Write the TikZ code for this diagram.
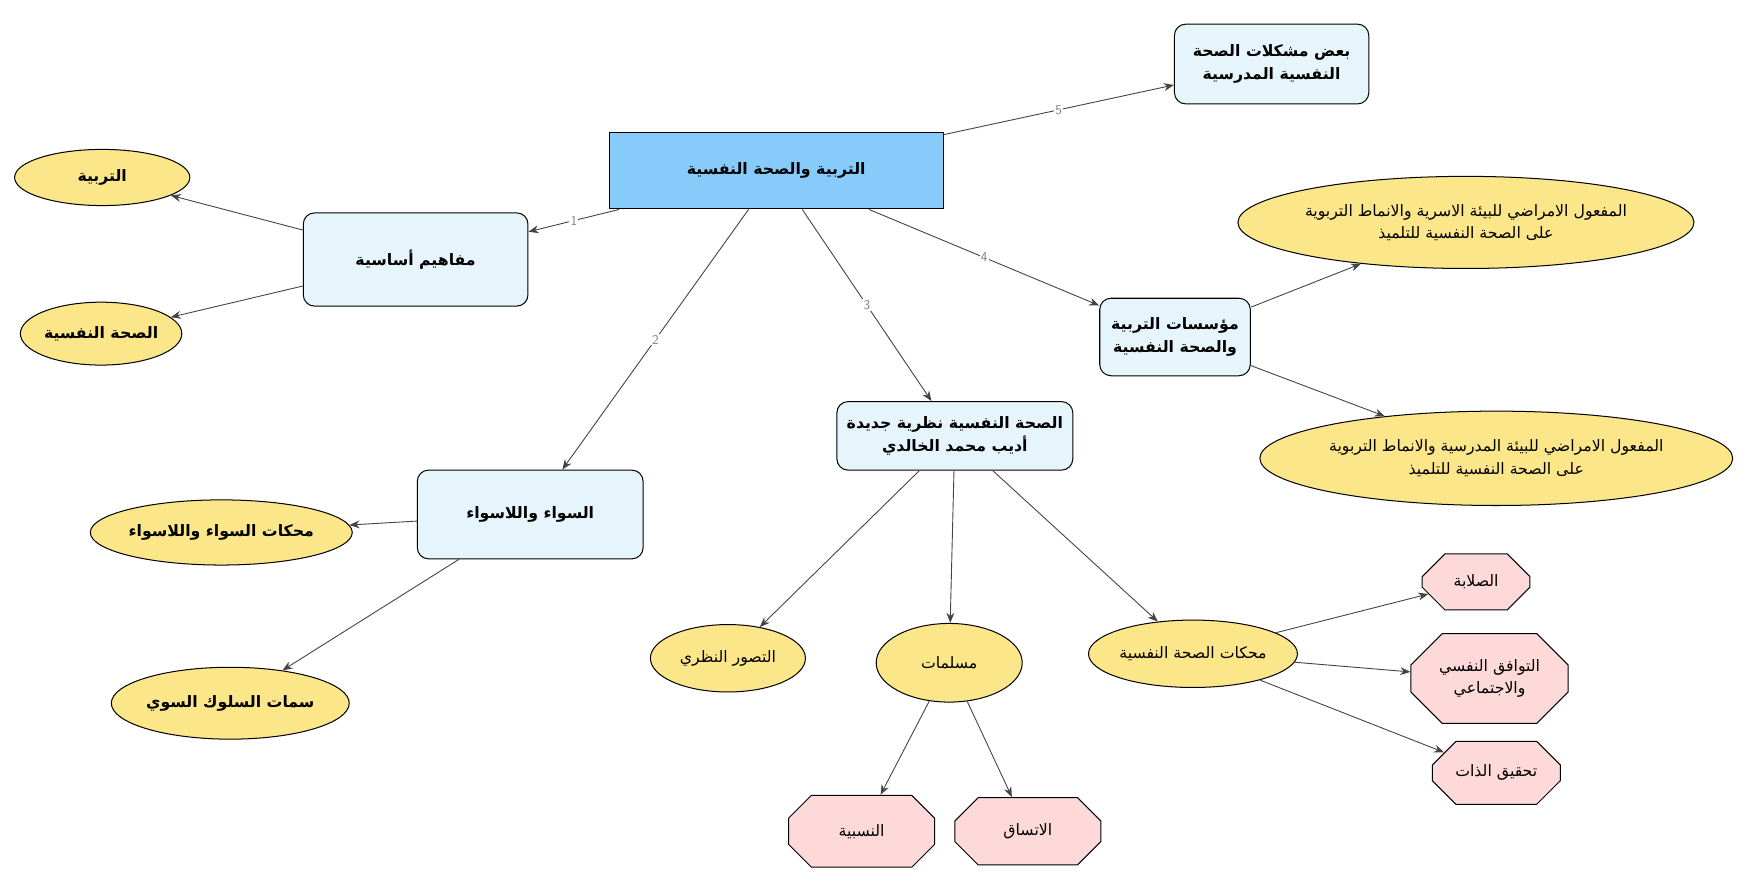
\documentclass[tikz,border=0pt]{standalone}
\usepackage{fontspec}
\TeXXeTstate=1
\newfontfamily\arabicfont[Script=Arabic]{DejaVu Sans}
\usetikzlibrary{shapes.geometric,shapes.misc,arrows.meta}
\newcommand{\ar}[1]{\beginR #1\endR}
\definecolor{boxblue}{HTML}{E6F5FC}
\definecolor{mainblue}{HTML}{87CBFB}
\definecolor{ylw}{HTML}{FCE68A}
\definecolor{pnk}{HTML}{FDD9D9}
\definecolor{edg}{HTML}{444444}
\tikzset{
  base/.style={draw=black, line width=0.9pt, align=center, inner sep=2pt, font=\arabicfont\fontsize{14}{20}\selectfont},
  bbox/.style={base, fill=boxblue, rounded corners=10pt},
  ell/.style={base, ellipse, fill=ylw, inner sep=0pt},
  oct/.style={base, chamfered rectangle, chamfered rectangle xsep=14pt, chamfered rectangle ysep=14pt, fill=pnk, inner sep=0pt},
  conn/.style={draw=edg, line width=0.8pt, -{Stealth[length=9pt,width=7pt]}},
  lbl/.style={fill=white, text=gray, inner sep=1pt, font=\sffamily\fontsize{12}{12}\selectfont},
}
\begin{document}
\begin{tikzpicture}[x=1pt,y=-1pt]
\useasboundingbox (0,0) rectangle (1565,792);
\node[base, fill=mainblue, minimum width=297, minimum height=68] (main) at (691,152) {\bfseries\ar{التربية والصحة النفسية}};
\node[bbox, minimum width=173, minimum height=71] (top) at (1132,57) {\bfseries\ar{بعض مشكلات الصحة}\\\bfseries\ar{النفسية المدرسية}};
\node[bbox, minimum width=200, minimum height=83] (maf) at (370,231) {\bfseries\ar{مفاهيم أساسية}};
\node[ell, minimum width=156, minimum height=50] (tar) at (91,158) {\bfseries\ar{التربية}};
\node[ell, minimum width=134, minimum height=56] (sih) at (90,297) {\bfseries\ar{الصحة النفسية}};
\node[bbox, minimum width=134, minimum height=69] (mua) at (1046,300) {\bfseries\ar{مؤسسات التربية}\\\bfseries\ar{والصحة النفسية}};
\node[ell, minimum width=406, minimum height=82] (e1) at (1305,198) {\ar{المفعول الامراضي للبيئة الاسرية والانماط التربوية}\\\ar{على الصحة النفسية للتلميذ}};
\node[ell, minimum width=400, minimum height=84] (e2) at (1332,408) {\ar{المفعول الامراضي للبيئة المدرسية والانماط التربوية}\\\ar{على الصحة النفسية للتلميذ}};
\node[bbox, minimum width=210, minimum height=61] (naz) at (850,388) {\bfseries\ar{الصحة النفسية نظرية جديدة}\\\bfseries\ar{أديب محمد الخالدي}};
\node[bbox, minimum width=201, minimum height=79] (saw) at (472,458) {\bfseries\ar{السواء واللاسواء}};
\node[ell, minimum width=218, minimum height=58] (mhs) at (197,474) {\bfseries\ar{محكات السواء واللاسواء}};
\node[ell, minimum width=200, minimum height=64] (sim) at (205,626) {\bfseries\ar{سمات السلوك السوي}};
\node[ell, minimum width=138, minimum height=60] (tas) at (648,586) {\ar{التصور النظري}};
\node[ell, minimum width=130, minimum height=70] (mus) at (845,590) {\ar{مسلمات}};
\node[ell, minimum width=186, minimum height=60] (mhk) at (1062,582) {\ar{محكات  الصحة النفسية}};
\node[oct, minimum width=96, minimum height=50] (sal) at (1314,518) {\ar{الصلابة}};
\node[oct, minimum width=140, minimum height=80] (taw) at (1326,604) {\ar{التوافق النفسي}\\\ar{والاجتماعي}};
\node[oct, minimum width=114, minimum height=56] (tah) at (1332,688) {\ar{تحقيق الذات}};
\node[oct, minimum width=130, minimum height=64] (nis) at (767,740) {\ar{النسبية}};
\node[oct, minimum width=130, minimum height=60] (itt) at (915,740) {\ar{الاتساق}};

\draw[conn] (main) -- node[lbl]{1} (maf);
\draw[conn] (main) -- node[lbl]{2} (saw);
\draw[conn] (main) -- node[lbl]{3} (naz);
\draw[conn] (main) -- node[lbl]{4} (mua);
\draw[conn] (main) -- node[lbl]{5} (top);
\draw[conn] (maf) -- (tar);
\draw[conn] (maf) -- (sih);
\draw[conn] (mua) -- (e1);
\draw[conn] (mua) -- (e2);
\draw[conn] (saw) -- (mhs);
\draw[conn] (saw) -- (sim);
\draw[conn] (naz) -- (tas);
\draw[conn] (naz) -- (mus);
\draw[conn] (naz) -- (mhk);
\draw[conn] (mus) -- (nis);
\draw[conn] (mus) -- (itt);
\draw[conn] (mhk) -- (sal);
\draw[conn] (mhk) -- (taw);
\draw[conn] (mhk) -- (tah);
\end{tikzpicture}
\end{document}
